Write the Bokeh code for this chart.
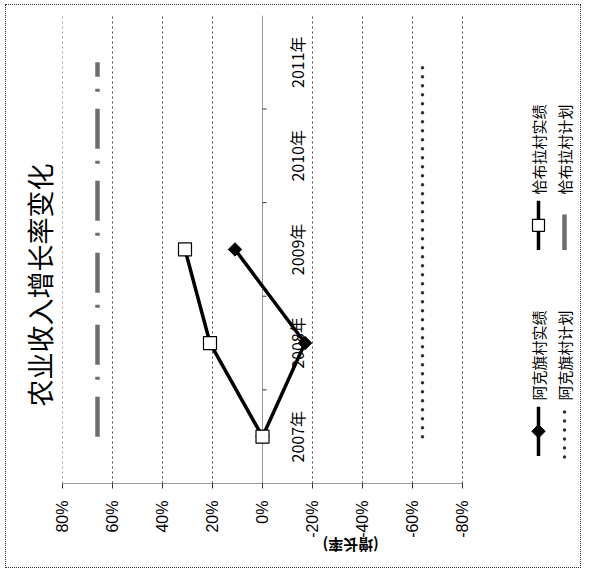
import math
from bokeh.plotting import figure
from bokeh.models import Range1d, FixedTicker, Title
from bokeh.core.properties import value
from bokeh.embed import file_html
from bokeh.resources import INLINE

# ---- data ----
years = ["2007年", "2008年", "2009年", "2010年", "2011年"]
actual_years = ["2007年", "2008年", "2009年"]
akeqi_actual = [0, -17, 11]        # 阿克旗村实绩 (%)
qiabula_actual = [0, 21, 31]       # 恰布拉村实绩 (%)
akeqi_plan = [-64, -64, -64, -64, -64]     # 阿克旗村计划 (%)
qiabula_plan = [66, 66, 66, 66, 66]        # 恰布拉村计划 (%)
value_ticks = [80, 60, 40, 20, 0, -20, -40, -60, -80]
tick_labels = ["80%", "60%", "40%", "20%", "0%", "-20%", "-40%", "-60%", "-80%"]
series_names = ["阿克旗村实绩", "阿克旗村计划", "恰布拉村实绩", "恰布拉村计划"]

cat_pos = [years.index(y) + 0.5 for y in years]
act_pos = [years.index(y) + 0.5 for y in actual_years]

# ---- layout constants ----
OX, OY = 7, 5            # intended page position of the canvas
W, H = 576, 564
LEFT = 63 - OX
frame_h = 490 - OY
BOTTOM = H - frame_h
PX_PER_PCT = 2.5
PX_PER_CAT = 95.0
frame_w = W - LEFT
x_lo = 80
x_hi = x_lo - frame_w / PX_PER_PCT
y_hi = frame_h / PX_PER_CAT

# page-pixel -> data helpers for legend placement
def X(px):
    return x_lo - (px - 63) / PX_PER_PCT

def Y(py):
    return (490 - py) / PX_PER_CAT

p = figure(width=W, height=H, output_backend="svg", toolbar_location=None,
           x_range=Range1d(x_lo, x_hi), y_range=Range1d(0, y_hi),
           min_border_left=LEFT, min_border_right=0, min_border_top=0,
           min_border_bottom=BOTTOM, y_axis_location=None)
p.xgrid.visible = False
p.ygrid.visible = False
p.outline_line_color = None
p.background_fill_color = "white"
p.border_fill_color = "white"
p.styles = {"border": "1px dotted #333", "margin-left": "5px", "margin-top": "4px"}

# ---- value axis (bottom) ----
ax = p.xaxis[0]
ax.ticker = FixedTicker(ticks=value_ticks)
ax.major_label_overrides = {v: l for v, l in zip(value_ticks, tick_labels)}
ax.bounds = (min(value_ticks), max(value_ticks))
ax.major_label_orientation = math.pi / 2
ax.major_label_standoff = 12
ax.major_label_text_font = "Liberation Sans"
ax.major_label_text_font_size = "16px"
ax.major_label_text_color = "black"
ax.major_tick_out = 5
ax.major_tick_in = 0
ax.minor_tick_out = 0
ax.minor_tick_in = 0
ax.axis_line_color = "#333"
ax.axis_line_dash = "1 1"
ax.major_tick_line_color = "#333"
ax.axis_label = "(增长率)"
ax.axis_label_orientation = math.pi
ax.axis_label_standoff = 5
ax.axis_label_text_font = "Noto Sans CJK SC"
ax.axis_label_text_font_size = "15px"
ax.axis_label_text_font_style = "bold"
ax.axis_label_text_color = "black"

# ---- title (left, reading upward) ----
p.add_layout(Title(text="农业收入增长率变化", align="left", offset=77,
                   text_font="Noto Sans CJK SC", text_font_size="27px",
                   text_font_style="normal", text_color="black", standoff=8), "left")

# ---- gridlines ----
grid_vals = [v for v in value_ticks if v != 0]
p.segment(x0=grid_vals, y0=[0] * len(grid_vals), x1=grid_vals, y1=[len(years)] * len(grid_vals),
          line_color="#444", line_width=1, line_dash="2 3")
# category axis at 0%
p.segment(x0=[0], y0=[0], x1=[0], y1=[len(years)], line_color="#333", line_width=1, line_dash="1 1")
bounds_c = list(range(1, len(years)))
p.segment(x0=[0] * len(bounds_c), y0=bounds_c, x1=[-4 / PX_PER_PCT] * len(bounds_c), y1=bounds_c,
          line_color="#333", line_width=1)

# ---- category labels ----
p.text(x=[0] * len(years), y=cat_pos, text=years, angle=math.pi / 2,
       text_align="center", text_baseline="middle", x_offset=34,
       text_font=value("Noto Sans CJK SC"), text_font_size="16px", text_color="black")

# ---- plan lines ----
p.line(x=qiabula_plan, y=cat_pos, line_width=4.5, line_color="#6e6e6e", line_dash="40 17 3 12")
p.line(x=akeqi_plan, y=cat_pos, line_width=3.5, line_color="#333", line_dash="0 9", line_cap="round")

# ---- actual lines ----
p.line(x=akeqi_actual, y=act_pos, line_width=3.5, line_color="black")
p.scatter(x=akeqi_actual, y=act_pos, marker="square", angle=math.pi / 4, size=9.5,
          fill_color="black", line_color="black")
p.line(x=qiabula_actual, y=act_pos, line_width=3.5, line_color="black")
p.scatter(x=qiabula_actual, y=act_pos, marker="square", size=13,
          fill_color="white", line_color="black", line_width=1.2)

# ---- legend (drawn rotated) ----
c1, c2 = X(539), X(565)
p.text(x=[c1, c2, c1, c2], y=[Y(360), Y(360), Y(151), Y(151)], text=series_names,
       angle=math.pi / 2, text_align="center", text_baseline="middle",
       text_font=value("Noto Sans CJK SC"), text_font_size="15px", text_color="black")
p.line(x=[c1, c1], y=[Y(462), Y(412)], line_width=3.5, line_color="black")
p.scatter(x=[c1], y=[Y(437)], marker="square", angle=math.pi / 4, size=9.5,
          fill_color="black", line_color="black")
p.line(x=[c1, c1], y=[Y(253), Y(203)], line_width=3.5, line_color="black")
p.scatter(x=[c1], y=[Y(228)], marker="square", size=12, fill_color="white",
          line_color="black", line_width=1.2)
p.line(x=[c2, c2], y=[Y(463), Y(413)], line_width=3.5, line_color="#333",
       line_dash="0 9", line_cap="round")
p.line(x=[c2, c2], y=[Y(253), Y(217)], line_width=4.5, line_color="#6e6e6e")

open("out.html", "w").write(file_html(p, INLINE))
